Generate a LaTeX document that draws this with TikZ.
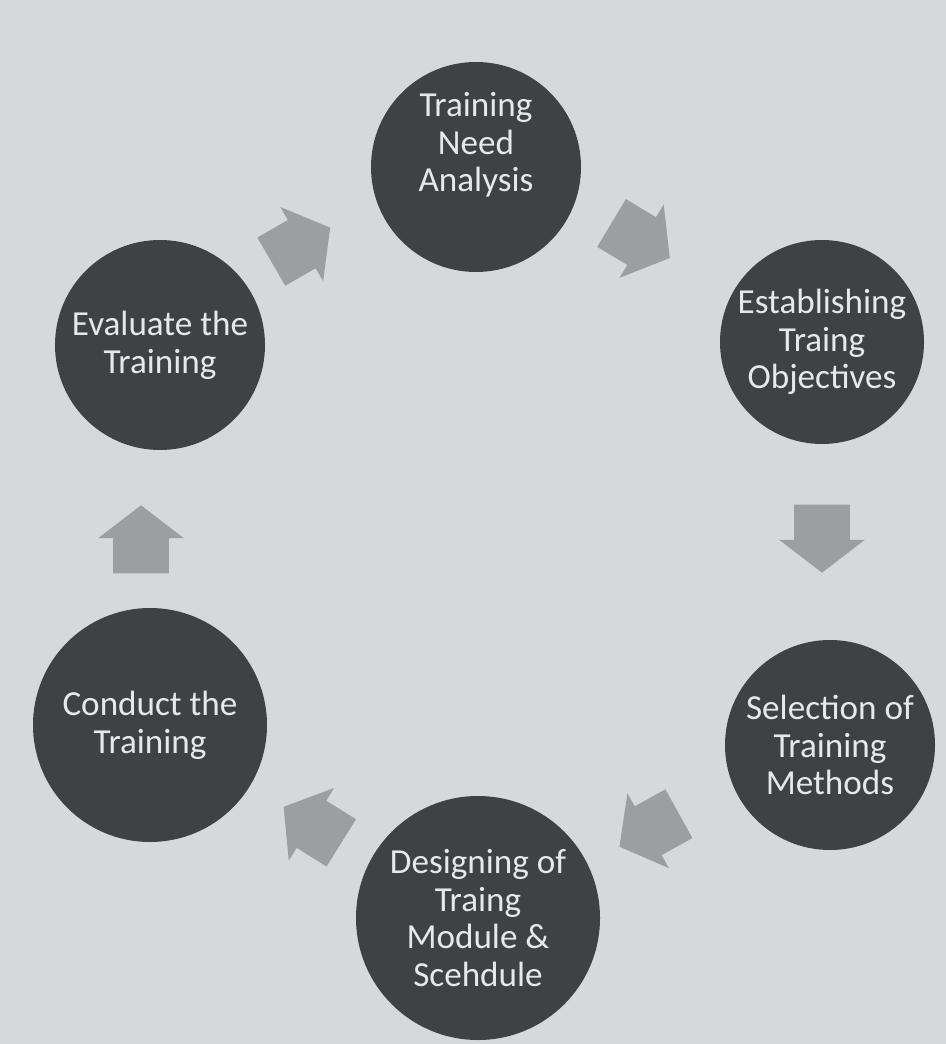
\documentclass[tikz,border=0pt]{standalone}
\usepackage{fontspec}
\setmainfont{Carlito}
\usetikzlibrary{shapes.arrows}
\definecolor{cycleBg}{HTML}{D6D9DC}
\definecolor{cycleDark}{HTML}{404142}
\definecolor{cycleArrow}{HTML}{9C9EA0}
\definecolor{cycleText}{HTML}{E6E8EA}

\begin{document}
\begin{tikzpicture}[
    stage/.style={circle, fill=cycleDark, inner sep=0pt, align=center,
                  font=\fontsize{20}{21.5}\selectfont\color{cycleText}},
    blockarr/.style={single arrow, fill=cycleArrow, inner xsep=0pt, inner ysep=0.55cm,
                     minimum height=1.36cm,
                     single arrow head extend=0.3cm, single arrow tip angle=105},
  ]
    \fill[cycleBg] (0,0) rectangle (18.92,-20.88);
    \useasboundingbox (0,0) rectangle (18.92,-20.88);

    \node[stage, minimum size=4.2cm, text depth=1.0cm] (need) at (9.52,-3.34) {Training\\Need\\Analysis};
    \node[stage, minimum size=4.08cm] (objectives) at (16.44,-6.84) {Establishing\\Traing\\Objectives};
    \node[stage, minimum size=4.2cm] (methods) at (16.6,-14.9) {Selection of\\Training\\Methods};
    \node[stage, minimum size=4.88cm] (module) at (9.56,-18.36) {Designing of\\Traing\\Module \&\\Scehdule};
    \node[stage, minimum size=4.68cm] (conduct) at (3.0,-14.5) {Conduct the\\Training};
    \node[stage, minimum size=4.2cm] (evaluate) at (3.2,-6.9) {Evaluate the\\Training};

    % block arrows round the cycle
    \node[blockarr, rotate=30] (a1) at (5.83,-5.0) {};
    \node[blockarr, rotate=-31] (a2) at (12.63,-4.7) {};
    \node[blockarr, rotate=-90] (a3) at (16.44,-10.56) {};
    \node[blockarr, rotate=209] (a4) at (13.17,-16.5) {};
    \node[blockarr, rotate=148] (a5) at (6.43,-16.61) {};
    \node[blockarr, rotate=90] (a6) at (2.82,-11.0) {};
\end{tikzpicture}
\end{document}
